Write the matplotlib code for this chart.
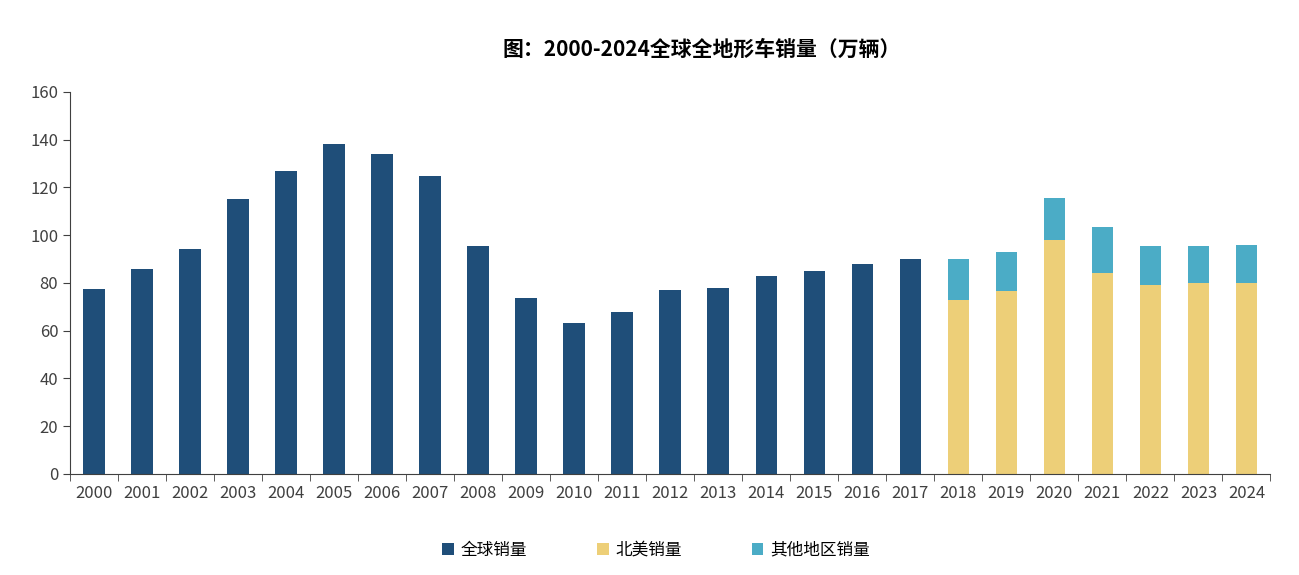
import matplotlib
matplotlib.use("Agg")
import matplotlib.pyplot as plt
import numpy as np

plt.rcParams['font.family'] = ['Noto Sans CJK SC', 'DejaVu Sans']

years = [str(y) for y in range(2000, 2025)]
global_sales = [77.5, 86, 94, 115, 127, 138, 134, 125, 95.5, 73.5, 63, 68, 77, 78, 83, 85, 88, 90]
na_sales = [73, 76.5, 98, 84, 79, 80, 80]
other_total = [90, 93, 115.5, 103.5, 95.5, 95.5, 96]
other_sales = [t - n for t, n in zip(other_total, na_sales)]

fig = plt.figure(figsize=(12.99, 5.75), dpi=100)
ax = fig.add_axes([0.054, 0.176, 0.924, 0.664])
x = np.arange(len(years))
w = 0.45
ax.bar(x[:len(global_sales)], global_sales, w, color='#1F4E79', label='全球销量')
xs = x[len(global_sales):]
ax.bar(xs, na_sales, w, color='#EDCF78', label='北美销量')
ax.bar(xs, other_sales, w, bottom=na_sales, color='#4BACC6', label='其他地区销量')

ax.set_xlim(-0.5, len(years) - 0.5)
ax.set_ylim(0, 160)
ax.set_yticks(range(0, 161, 20))
ax.set_xticks(x)
ax.set_xticklabels(years)
ax.set_xticks(np.arange(-0.5, len(years), 1), minor=True)
ax.tick_params(axis='x', which='major', length=0, labelsize=12, colors='#404040', pad=8)
ax.tick_params(axis='x', which='minor', length=5, color='#404040')
ax.tick_params(axis='y', labelsize=12, colors='#404040', length=5, color='#404040')
for s in ['top', 'right']:
    ax.spines[s].set_visible(False)
ax.spines['left'].set_color('#404040')
ax.spines['bottom'].set_color('#404040')

fig.text(0.54, 0.915, '图：2000-2024全球全地形车销量（万辆）', ha='center', va='center',
         fontsize=15, fontweight='bold')
fig.legend(loc='center', bbox_to_anchor=(0.505, 0.043), ncol=3, frameon=False,
           fontsize=12, handlelength=0.7, handleheight=0.7, handletextpad=0.4,
           columnspacing=4.2)
fig.savefig('out.png', dpi=100)
